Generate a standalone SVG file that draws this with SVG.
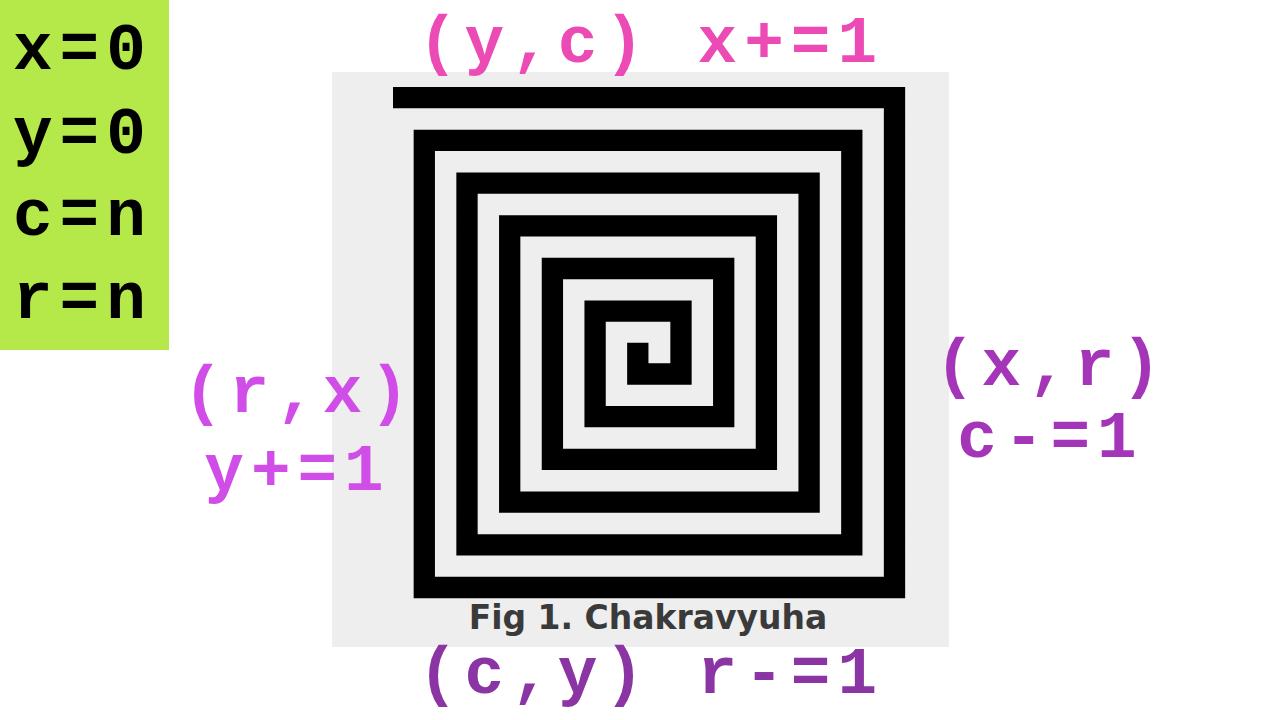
<svg xmlns="http://www.w3.org/2000/svg" width="1280" height="720" viewBox="0 0 1280 720">
  <style>
    .mono { font-family: "Liberation Mono", "Courier New", monospace; font-weight: bold; font-size: 66px; letter-spacing: 7px; }
    .vars { fill: #000000; }
    .lt { fill: #ec4ab4; }
    .ll { fill: #d04de8; }
    .lr { fill: #a535b8; }
    .lb { fill: #8b34a3; }
    .cap { font-family: "DejaVu Sans", Verdana, sans-serif; font-weight: bold; font-size: 33px; fill: #3a3a3a; }
  </style>
  <rect x="0" y="0" width="1280" height="720" fill="#ffffff"/>

  <g id="variables">
    <rect x="0" y="0" width="169" height="350" fill="#b5e94a"/>
    <text class="mono vars" x="13" y="69">x=0</text>
    <text class="mono vars" x="13" y="153">y=0</text>
    <text class="mono vars" x="13" y="235">c=n</text>
    <text class="mono vars" x="13" y="318">r=n</text>
  </g>

  <g id="chakravyuha-figure">
    <rect x="332" y="72" width="617" height="575" fill="#eeeeee"/>
    <path d="M393,97.7 H894.5 V587.5 H424.3 V140.4 H851.8 V544.8 H467 V183.1 H809.1 V502.1 H509.7 V225.8 H766.4 V459.4 H552.4 V268.5 H723.7 V416.7 H595.1 V311.2 H681 V374 H637.8 V342.7" fill="none" stroke="#000000" stroke-width="21.3" stroke-linejoin="miter" stroke-linecap="butt"/>
    <text class="cap" x="648" y="629" text-anchor="middle">Fig 1. Chakravyuha</text>
  </g>

  <g id="label-top">
    <text class="mono lt" x="651" y="62" text-anchor="middle" xml:space="preserve">(y,c) x+=1</text>
  </g>
  <g id="label-left">
    <text class="mono ll" x="299.5" y="412" text-anchor="middle">(r,x)</text>
    <text class="mono ll" x="297.5" y="490" text-anchor="middle">y+=1</text>
  </g>
  <g id="label-right">
    <text class="mono lr" x="1051.5" y="385" text-anchor="middle">(x,r)</text>
    <text class="mono lr" x="1050.5" y="457" text-anchor="middle">c-=1</text>
  </g>
  <g id="label-bottom">
    <text class="mono lb" x="651" y="693" text-anchor="middle" xml:space="preserve">(c,y) r-=1</text>
  </g>
</svg>
